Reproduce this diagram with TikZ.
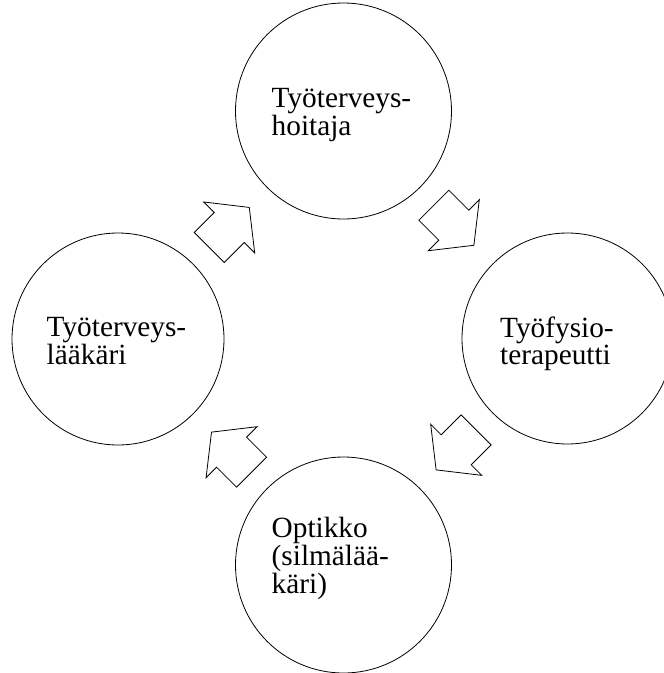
\documentclass[tikz,border=0pt]{standalone}
\usepackage{fontspec}
\setmainfont{Liberation Serif}
\begin{document}
\begin{tikzpicture}[x=1pt,y=-1pt,
  ring/.style={draw=black,line width=0.8pt,circle,inner sep=0pt},
  lbl/.style={anchor=base west,align=left,inner sep=0pt,font=\fontsize{29.3pt}{25.5pt}\selectfont},
  arrowline/.style={draw=black,line width=0.8pt,line join=miter,fill=white},
  pics/blockarrow/.style={code={
    \draw[arrowline] (-28.2,-21.2) -- (0,-21.2) -- (0,-36.1) -- (28.4,0)
      -- (0,36.1) -- (0,21.2) -- (-28.2,21.2) -- cycle;}}]
\useasboundingbox (0,0) rectangle (664,673);
\clip (0,0) rectangle (664,673);
% circles
\node[ring,minimum size=216pt] (top) at (343.5,111) {};
\node[ring,minimum size=211pt] (right) at (567.5,338.5) {};
\node[ring,minimum size=216pt] (bottom) at (343.5,565) {};
\node[ring,minimum size=212pt] (left) at (118,339) {};
% texts (anchor = baseline of the last line)
\node[lbl] (ttop) at (271.5,135.5) {Työterveys-\\hoitaja};
\node[lbl] (tright) at (500,364.5) {Työfysio-\\terapeutti};
\node[lbl] (tbottom) at (271.5,593) {Optikko\\(silmälää-\\käri)};
\node[lbl] (tleft) at (46.5,364.3) {Työterveys-\\lääkäri};
% block arrows
\pic[rotate=45] at (229.2,227.5) {blockarrow};
\pic[rotate=-45] at (453.8,225.2) {blockarrow};
\pic[rotate=-135] at (456.2,449.8) {blockarrow};
\pic[rotate=135] at (231.6,452.2) {blockarrow};
\end{tikzpicture}
\end{document}
